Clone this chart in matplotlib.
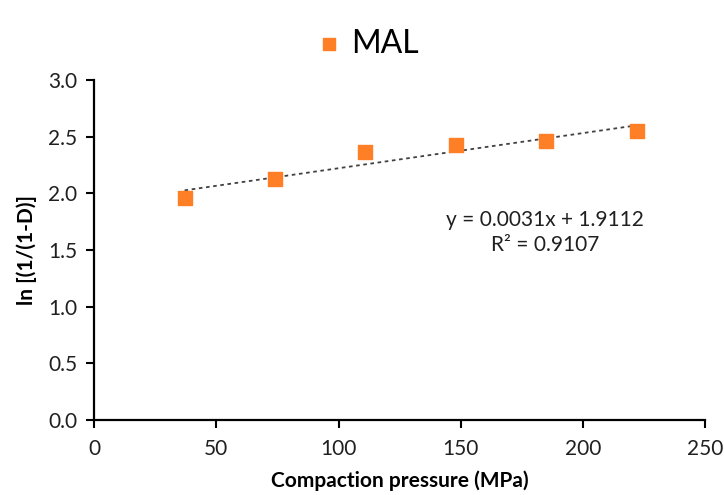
import numpy as np
import matplotlib
matplotlib.use("Agg")
from matplotlib import pyplot as plt

plt.rcParams['font.family'] = ['Lato', 'DejaVu Sans']

# data
pressure = np.array([37, 74, 111, 148, 185, 222])
ln_val = np.array([1.96, 2.13, 2.36, 2.43, 2.46, 2.55])
slope = 0.0031
intercept = 1.9112
r2 = 0.9107

fig = plt.figure(figsize=(7.24, 4.95), dpi=100)
ax = fig.add_axes([0.130, 0.1515, 0.844, 0.687])

ax.scatter(pressure, ln_val, marker='s', s=90, color='#ff7f27', zorder=3, label='MAL')

# linear trendline over the data range
xs = np.array([pressure.min(), pressure.max()])
ax.plot(xs, slope * xs + intercept, linestyle=(0, (2, 2)), color='#404040', linewidth=1.3, zorder=2)

ax.text(184.5, 1.655, "y = %.4fx + %.4f\nR² = %.4f" % (slope, intercept, r2),
        ha='center', va='center', fontsize=15, linespacing=1.35, color='#202020')

ax.set_xlim(0, 250)
ax.set_ylim(0, 3.0)
ax.set_xticks(np.arange(0, 251, 50))
ax.set_yticks(np.arange(0, 3.01, 0.5))
ax.set_yticklabels(["%.1f" % v for v in np.arange(0, 3.01, 0.5)])
ax.tick_params(labelsize=15, length=6, width=1.5, color='black', labelcolor='#202020')
ax.tick_params(axis='x', pad=8)
ax.tick_params(axis='y', pad=6)
for side in ['top', 'right']:
    ax.spines[side].set_visible(False)
for side in ['left', 'bottom']:
    ax.spines[side].set_linewidth(1.6)

ax.set_xlabel("Compaction pressure (MPa)", fontsize=15, fontweight='bold', labelpad=8)
ax.set_ylabel("ln [(1/(1-D)]", fontsize=15, fontweight='bold', labelpad=8)

leg = fig.legend(loc='upper center', bbox_to_anchor=(0.508, 1.0), frameon=False,
                 fontsize=23, handlelength=0.8, handletextpad=0.3, markerscale=0.9)

fig.savefig("out.png", dpi=100)
